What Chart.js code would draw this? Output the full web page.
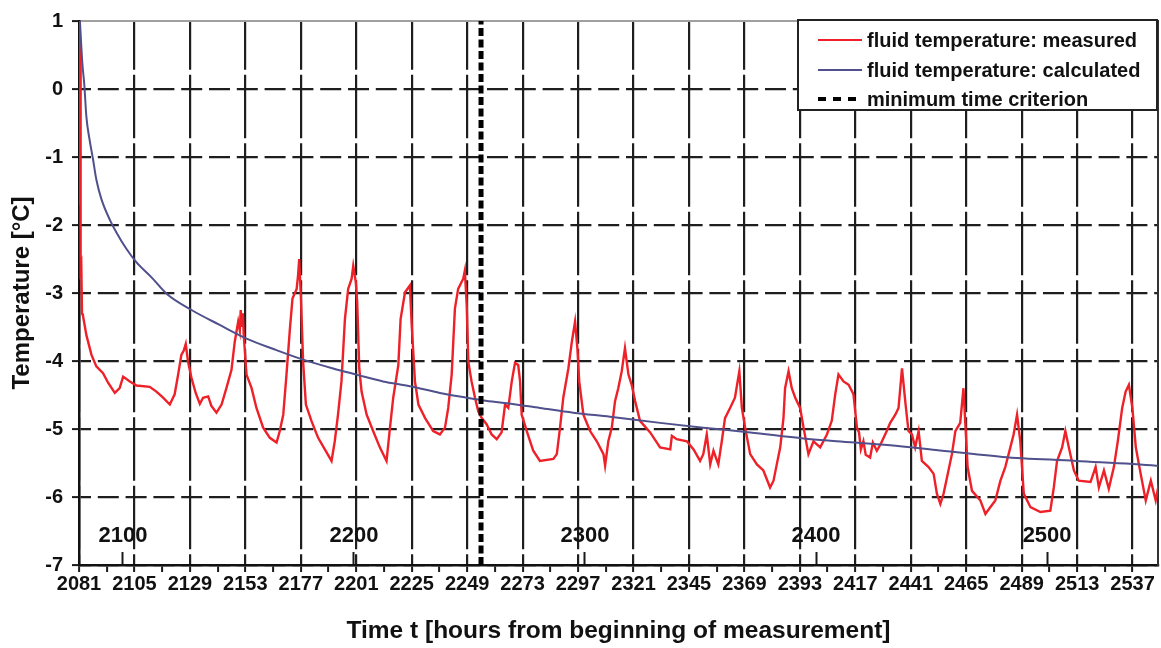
<!DOCTYPE html>
<html>
<head>
<meta charset="utf-8">
<title>Fluid temperature</title>
<script src="https://cdn.jsdelivr.net/npm/chart.js@4.4.1/dist/chart.umd.min.js"></script>
<style>
  html, body { margin: 0; padding: 0; background: #ffffff; }
  #wrap { position: relative; width: 1161px; height: 648px; }
</style>
</head>
<body>
<div id="wrap"><canvas id="chart"></canvas></div>
<script>
// ---- data -------------------------------------------------------------
const X_MIN = 2081;
const X_MAX = 2548;

const dayTicks = [2081, 2105, 2129, 2153, 2177, 2201, 2225, 2249, 2273, 2297,
                  2321, 2345, 2369, 2393, 2417, 2441, 2465, 2489, 2513, 2537];
const centuryTicks = [2100, 2200, 2300, 2400, 2500];
const tempTicks = [1, 0, -1, -2, -3, -4, -5, -6, -7];

const measuredHours = [
  2081.0, 2081.15, 2081.3, 2081.45, 2081.6, 2081.8, 2082.0, 2082.3, 2082.7, 2084.2,
  2086.4, 2088.5, 2091.4, 2093.6, 2096.5, 2098.6, 2100.1, 2103.0, 2105.9, 2111.6,
  2114.5, 2117.4, 2120.3, 2122.4, 2123.9, 2125.3, 2126.3, 2127.2, 2128.2, 2129.7,
  2131.5, 2133.3, 2134.7, 2136.9, 2138.3, 2140.5, 2142.7, 2144.8, 2147.0, 2148.4,
  2149.9, 2150.6, 2151.0, 2151.5, 2151.9, 2152.3, 2153.5, 2155.7, 2157.8, 2160.7,
  2163.6, 2166.5, 2167.9, 2169.4, 2170.8, 2172.3, 2173.4, 2175.2, 2175.8, 2176.3,
  2177.0, 2178.0, 2179.2, 2181.6, 2184.5, 2187.4, 2190.3, 2191.7, 2193.1, 2194.6,
  2196.1, 2197.5, 2199.0, 2199.7, 2200.8, 2201.4, 2202.3, 2203.3, 2205.5, 2208.3,
  2211.2, 2214.1, 2215.6, 2217.0, 2219.2, 2220.2, 2222.1, 2224.2, 2225.0, 2226.4,
  2227.9, 2230.8, 2234.3, 2237.2, 2239.4, 2240.8, 2242.3, 2243.7, 2245.1, 2247.3,
  2248.0, 2248.8, 2249.5, 2250.9, 2252.4, 2253.8, 2255.3, 2257.4, 2259.6, 2261.8,
  2263.9, 2265.4, 2266.8, 2268.3, 2269.7, 2271.1, 2271.9, 2272.6, 2274.8, 2277.6,
  2280.5, 2286.3, 2287.8, 2289.2, 2290.6, 2292.8, 2294.3, 2295.7, 2296.7, 2297.5,
  2299.3, 2302.2, 2305.1, 2308.0, 2308.7, 2310.1, 2311.6, 2313.0, 2314.4, 2315.9,
  2317.3, 2318.8, 2320.2, 2321.7, 2323.8, 2328.2, 2332.5, 2336.9, 2337.6, 2339.7,
  2344.1, 2347.0, 2349.8, 2351.2, 2352.7, 2354.2, 2355.6, 2357.7, 2359.2, 2360.6,
  2362.8, 2364.9, 2366.8, 2367.9, 2369.3, 2371.5, 2374.4, 2377.2, 2380.1, 2381.6,
  2383.0, 2384.5, 2385.9, 2386.6, 2388.1, 2389.5, 2391.0, 2393.1, 2394.6, 2396.7,
  2398.9, 2401.8, 2404.7, 2406.8, 2408.3, 2409.7, 2411.9, 2414.1, 2416.2, 2417.7,
  2418.6, 2419.4, 2420.5, 2421.5, 2423.4, 2424.6, 2426.3, 2428.0, 2430.6, 2432.1,
  2434.3, 2435.7, 2437.2, 2438.6, 2440.0, 2441.5, 2442.9, 2444.4, 2445.8, 2448.7,
  2450.9, 2452.3, 2453.8, 2455.2, 2456.7, 2458.8, 2460.3, 2462.4, 2463.8, 2464.7,
  2465.6, 2467.5, 2471.1, 2473.3, 2475.4, 2477.6, 2479.8, 2481.9, 2484.1, 2485.5,
  2487.0, 2488.4, 2489.9, 2492.8, 2497.1, 2501.4, 2502.9, 2504.3, 2506.5, 2507.9,
  2509.4, 2511.6, 2513.7, 2518.8, 2521.0, 2522.4, 2524.6, 2526.7, 2528.9, 2530.6,
  2532.5, 2534.0, 2535.4, 2536.9, 2538.4, 2540.5, 2542.7, 2544.9, 2547.0, 2549.2
];
const measuredTemps = [
  -1.65, 1.00, -1.70, 0.60, -2.00, -2.65, -2.60, -3.30, -3.33, -3.62,
  -3.91, -4.08, -4.18, -4.32, -4.47, -4.40, -4.23, -4.30, -4.36, -4.38,
  -4.45, -4.54, -4.64, -4.49, -4.20, -3.91, -3.85, -3.75, -4.01, -4.25,
  -4.47, -4.63, -4.54, -4.52, -4.66, -4.76, -4.64, -4.40, -4.13, -3.72,
  -3.42, -3.55, -3.25, -3.50, -3.30, -3.62, -4.20, -4.40, -4.69, -4.98,
  -5.13, -5.20, -5.03, -4.79, -4.20, -3.52, -3.08, -2.94, -2.75, -2.50,
  -3.03, -4.01, -4.64, -4.88, -5.13, -5.30, -5.47, -5.18, -4.79, -4.30,
  -3.38, -2.94, -2.79, -2.60, -2.84, -3.13, -4.11, -4.45, -4.79, -5.03,
  -5.27, -5.47, -4.98, -4.54, -4.06, -3.38, -2.99, -2.89, -3.47, -4.30,
  -4.64, -4.84, -5.03, -5.08, -4.98, -4.69, -4.20, -3.23, -2.94, -2.79,
  -2.67, -3.18, -4.01, -4.30, -4.54, -4.74, -4.84, -4.93, -5.08, -5.15,
  -5.05, -4.64, -4.69, -4.30, -4.03, -4.06, -4.30, -4.79, -5.03, -5.32,
  -5.47, -5.44, -5.37, -4.98, -4.54, -4.11, -3.72, -3.42, -3.81, -4.30,
  -4.79, -5.03, -5.18, -5.37, -5.54, -5.18, -4.98, -4.59, -4.40, -4.15,
  -3.81, -4.20, -4.35, -4.59, -4.88, -5.05, -5.27, -5.30, -5.10, -5.15,
  -5.18, -5.30, -5.47, -5.37, -5.08, -5.52, -5.32, -5.52, -5.18, -4.84,
  -4.69, -4.54, -4.15, -4.69, -4.98, -5.37, -5.52, -5.61, -5.86, -5.76,
  -5.52, -5.27, -4.84, -4.40, -4.15, -4.40, -4.54, -4.69, -4.98, -5.37,
  -5.18, -5.27, -5.08, -4.88, -4.49, -4.20, -4.30, -4.35, -4.49, -4.98,
  -5.05, -5.30, -5.18, -5.38, -5.42, -5.20, -5.32, -5.22, -5.03, -4.91,
  -4.79, -4.69, -4.11, -4.59, -5.03, -5.08, -5.27, -5.03, -5.47, -5.56,
  -5.66, -5.95, -6.10, -5.95, -5.71, -5.37, -5.03, -4.91, -4.40, -4.98,
  -5.56, -5.91, -6.05, -6.25, -6.15, -6.05, -5.76, -5.56, -5.27, -5.08,
  -4.79, -5.18, -5.95, -6.15, -6.22, -6.20, -5.86, -5.47, -5.27, -5.03,
  -5.27, -5.61, -5.76, -5.78, -5.56, -5.86, -5.61, -5.88, -5.56, -5.18,
  -4.69, -4.45, -4.35, -4.69, -5.27, -5.66, -6.05, -5.76, -6.05, -5.66
];

const calcHours = [
  2081.4, 2082.4, 2083.3, 2084.2, 2085.6, 2087.1, 2088.5, 2090.7, 2094.3, 2097.2,
  2101.5, 2105.9, 2112.4, 2118.9, 2129.7, 2141.9, 2153.5, 2166.5, 2178.0, 2191.0,
  2201.1, 2212.6, 2224.2, 2237.2, 2248.8, 2256.0, 2266.1, 2280.5, 2294.9, 2310.8,
  2332.5, 2351.2, 2371.5, 2394.6, 2409.0, 2432.1, 2451.9, 2480.8, 2512.6, 2547.3,
  2550.0
];
const calcTemps = [
  1.00, 0.40, 0.06, -0.41, -0.75, -1.04, -1.33, -1.62, -1.92, -2.11,
  -2.35, -2.55, -2.77, -3.01, -3.25, -3.47, -3.67, -3.84, -3.98, -4.11,
  -4.20, -4.30, -4.37, -4.47, -4.54, -4.58, -4.62, -4.69, -4.76, -4.82,
  -4.91, -4.98, -5.05, -5.14, -5.18, -5.24, -5.31, -5.41, -5.47, -5.54,
  -5.55
];

const criterionHour = 2255;
const criterionSpan = [-7, 1];

const seriesNames = [
  'fluid temperature: measured',
  'fluid temperature: calculated',
  'minimum time criterion'
];

// ---- styling ------------------------------------------------------------
const FONT = "'Liberation Sans', Arial, Helvetica, sans-serif";
const INK = '#111111';
const GRID = '#1e1e1e';
const RED = '#ee2028';
const NAVY = '#50508c';

const toPoints = (xs, ys) => xs.map((x, i) => ({ x: x, y: ys[i] }));
const halfDayTicks = dayTicks.flatMap(h => [h, h + 12]).filter(h => h <= X_MAX);

// Legend panel in the upper right corner of the plot
const legendPanel = {
  id: 'legendPanel',
  afterDatasetsDraw(chart, args, opts) {
    const ctx = chart.ctx;
    ctx.save();
    ctx.fillStyle = '#ffffff';
    ctx.fillRect(opts.x, opts.y, opts.w, opts.h);
    ctx.lineWidth = 2;
    ctx.strokeStyle = '#222222';
    ctx.strokeRect(opts.x, opts.y, opts.w, opts.h);
    ctx.font = 'bold 20px ' + FONT;
    ctx.textBaseline = 'middle';
    ctx.textAlign = 'left';
    chart.data.datasets.forEach((ds, i) => {
      const y = opts.rows[i];
      ctx.beginPath();
      ctx.strokeStyle = ds.borderColor;
      ctx.lineWidth = ds.legendLineWidth;
      ctx.setLineDash(ds.legendDash || []);
      ctx.moveTo(opts.sampleX0, y);
      ctx.lineTo(opts.sampleX1, y);
      ctx.stroke();
      ctx.setLineDash([]);
      ctx.fillStyle = INK;
      ctx.fillText(ds.label, opts.textX, y + 1);
    });
    ctx.restore();
  }
};

const chart = new Chart(document.getElementById('chart'), {
  type: 'line',
  data: {
    datasets: [
      {
        label: seriesNames[0],
        data: toPoints(measuredHours, measuredTemps),
        borderColor: RED,
        borderWidth: 2.4,
        pointRadius: 0,
        tension: 0,
        order: 2,
        legendLineWidth: 2
      },
      {
        label: seriesNames[1],
        data: toPoints(calcHours, calcTemps),
        borderColor: NAVY,
        borderWidth: 2,
        pointRadius: 0,
        cubicInterpolationMode: 'monotone',
        order: 1,
        legendLineWidth: 2
      },
      {
        label: seriesNames[2],
        data: criterionSpan.map(t => ({ x: criterionHour, y: t })),
        borderColor: '#000000',
        borderWidth: 5,
        borderDash: [8, 3.5],
        pointRadius: 0,
        order: 0,
        legendLineWidth: 4,
        legendDash: [8, 7]
      }
    ]
  },
  options: {
    responsive: true,
    maintainAspectRatio: false,
    animation: false,
    devicePixelRatio: 1,
    layout: { padding: { left: 0, top: 17, right: 3, bottom: 0 } },
    plugins: {
      legend: { display: false },
      tooltip: { enabled: false },
      legendPanel: {
        x: 798, y: 20, w: 359, h: 90,
        rows: [40, 70, 99],
        sampleX0: 818, sampleX1: 862, textX: 867
      }
    },
    scales: {
      x: {
        type: 'linear',
        position: 'bottom',
        min: X_MIN,
        max: X_MAX,
        bounds: 'data',
        afterBuildTicks: s => { s.ticks = halfDayTicks.map(v => ({ value: v })); },
        afterFit: s => { s.height = 83; },
        grid: {
          color: c => (c.tick && dayTicks.includes(c.tick.value)) ? GRID : 'rgba(0,0,0,0)',
          lineWidth: 2.2,
          drawTicks: true,
          tickLength: 7,
          tickColor: '#1a1a1a',
          tickWidth: 2
        },
        border: { display: true, color: '#111111', width: 2.5, dash: [63.5, 5], dashOffset: 14.75 },
        ticks: {
          autoSkip: false,
          maxRotation: 0,
          minRotation: 0,
          padding: 0,
          color: INK,
          font: { family: FONT, size: 20, weight: 'bold' },
          callback: v => dayTicks.includes(v) ? String(v) : ''
        },
        title: {
          display: true,
          text: 'Time t [hours from beginning of measurement]',
          color: INK,
          font: { family: FONT, size: 24.5, weight: 'bold' },
          padding: { top: 0, bottom: 2 }
        }
      },
      x2: {
        type: 'linear',
        position: { y: -7 },
        min: X_MIN,
        max: X_MAX,
        bounds: 'data',
        afterBuildTicks: s => { s.ticks = centuryTicks.map(v => ({ value: v })); },
        grid: {
          drawOnChartArea: false,
          drawTicks: true,
          tickLength: -13,
          tickColor: '#1a1a1a',
          tickWidth: 2
        },
        border: { display: false },
        ticks: {
          autoSkip: false,
          maxRotation: 0,
          minRotation: 0,
          padding: -29,
          color: INK,
          font: { family: FONT, size: 22, weight: 'bold' },
          callback: v => String(v)
        }
      },
      xTop: {
        type: 'linear',
        position: 'top',
        min: X_MIN,
        max: X_MAX,
        grid: { display: false, drawTicks: false },
        border: { display: true, color: '#a0a0a0', width: 2 },
        ticks: { display: false }
      },
      y: {
        type: 'linear',
        position: 'left',
        min: -7,
        max: 1,
        afterBuildTicks: s => { s.ticks = tempTicks.map(v => ({ value: v })); },
        afterFit: s => { s.width = 79; },
        grid: {
          color: c => (c.tick && c.tick.value === 1) ? 'rgba(0,0,0,0)' : GRID,
          lineWidth: 2.2,
          drawTicks: true,
          tickLength: 7,
          tickColor: '#1a1a1a',
          tickWidth: 2
        },
        border: { display: true, color: '#111111', width: 2.5, dash: [21, 6.8], dashOffset: 10.5 },
        ticks: {
          padding: 9,
          color: INK,
          font: { family: FONT, size: 20, weight: 'bold' },
          callback: v => String(v)
        },
        title: {
          display: true,
          text: 'Temperature [°C]',
          color: INK,
          font: { family: FONT, size: 24, weight: 'bold' },
          padding: { top: 8, bottom: 0 }
        }
      },
      yRight: {
        type: 'linear',
        position: 'right',
        min: -7,
        max: 1,
        grid: { display: false, drawTicks: false },
        border: { display: true, color: '#333333', width: 2 },
        ticks: { display: false }
      }
    }
  },
  plugins: [legendPanel]
});
</script>
</body>
</html>
